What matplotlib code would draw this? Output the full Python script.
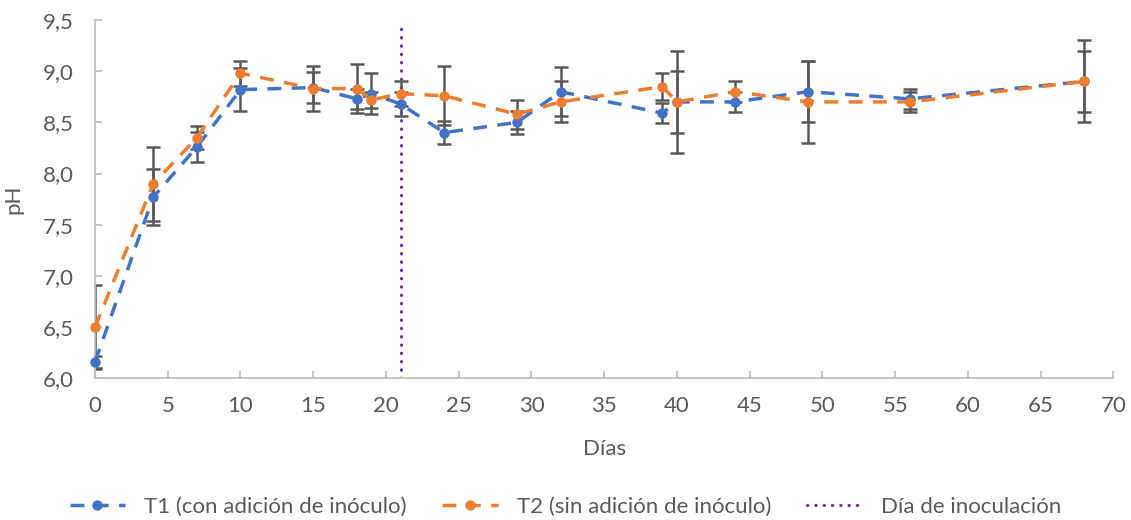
import matplotlib
matplotlib.use("Agg")
import matplotlib.pyplot as plt
from matplotlib.ticker import FixedLocator, FixedFormatter

# ---- data ----
days = [0, 4, 7, 10, 15, 18, 19, 21, 24, 29, 32, 39, 40, 44, 49, 56, 68]
t1 = [6.16, 7.77, 8.26, 8.82, 8.84, 8.73, 8.78, 8.68, 8.40, 8.50, 8.80, 8.59, 8.70, 8.70, 8.80, 8.73, 8.90]
t1_err = [0.06, 0.27, 0.15, 0.21, 0.15, 0.10, 0.20, 0.12, 0.11, 0.11, 0.24, 0.10, 0.30, 0.10, 0.30, 0.10, 0.30]
t2 = [6.50, 7.90, 8.35, 8.98, 8.83, 8.83, 8.72, 8.78, 8.76, 8.58, 8.70, 8.85, 8.70, 8.80, 8.70, 8.70, 8.90]
t2_err = [0.41, 0.36, 0.11, 0.12, 0.22, 0.24, 0.08, 0.12, 0.29, 0.14, 0.20, 0.13, 0.50, 0.10, 0.40, 0.10, 0.40]
inoc_day = 21
y_ticks = [6.0, 6.5, 7.0, 7.5, 8.0, 8.5, 9.0, 9.5]
y_tick_labels = ["6,0", "6,5", "7,0", "7,5", "8,0", "8,5", "9,0", "9,5"]
x_ticks = list(range(0, 75, 5))
labels = ["T1 (con adición de inóculo)", "T2 (sin adición de inóculo)", "Día de inoculación"]

# ---- style ----
plt.rcParams['font.family'] = ['Lato', 'DejaVu Sans']
txt = '#595959'
blue = '#4472C4'
orange = '#ED7D31'
purple = '#7030A0'
axis_c = '#BFBFBF'
fs = 16

fig = plt.figure(figsize=(11.31, 5.20), dpi=100)
ax = fig.add_axes([0.084, 0.2725, 0.9005, 0.689])

ax.errorbar(days, t1, yerr=t1_err, fmt='none', ecolor=txt, elinewidth=1.8,
            capsize=5, capthick=1.8, zorder=2)
ax.errorbar(days, t2, yerr=t2_err, fmt='none', ecolor=txt, elinewidth=1.8,
            capsize=5, capthick=1.8, zorder=2)

l1, = ax.plot(days, t1, color=blue, lw=2.5, dashes=(4, 3), marker='o', ms=7.5,
              markeredgewidth=0, zorder=3, clip_on=False, label=labels[0])
l2, = ax.plot(days, t2, color=orange, lw=2.5, dashes=(4, 3), marker='o', ms=7.5,
              markeredgewidth=0, zorder=4, clip_on=False, label=labels[1])
l3, = ax.plot([inoc_day, inoc_day], [6.0, 9.45], color=purple, lw=2.3,
              linestyle=(0, (0.1, 2.5)), dash_capstyle='round', zorder=1, label=labels[2])

ax.set_xlim(0, 70)
ax.set_ylim(6.0, 9.5)
ax.xaxis.set_major_locator(FixedLocator(x_ticks))
ax.yaxis.set_major_locator(FixedLocator(y_ticks))
ax.yaxis.set_major_formatter(FixedFormatter(y_tick_labels))

for s in ['top', 'right']:
    ax.spines[s].set_visible(False)
for s in ['left', 'bottom']:
    ax.spines[s].set_color(axis_c)
    ax.spines[s].set_linewidth(1.3)
ax.tick_params(direction='in', length=5, width=1.3, color=axis_c,
               labelsize=fs, labelcolor=txt)
ax.tick_params(axis='x', pad=13)
ax.tick_params(axis='y', pad=15)

ax.set_xlabel("Días", fontsize=fs, color=txt, labelpad=16)
ax.set_ylabel("pH", fontsize=fs, color=txt, labelpad=14)

leg = fig.legend(handles=[l1, l2, l3], loc='center', bbox_to_anchor=(0.5, 0.025),
                 ncol=3, frameon=False, fontsize=fs, handlelength=2.5,
                 handletextpad=0.85, columnspacing=1.6, labelcolor=txt)

fig.savefig("out.png", dpi=100)
